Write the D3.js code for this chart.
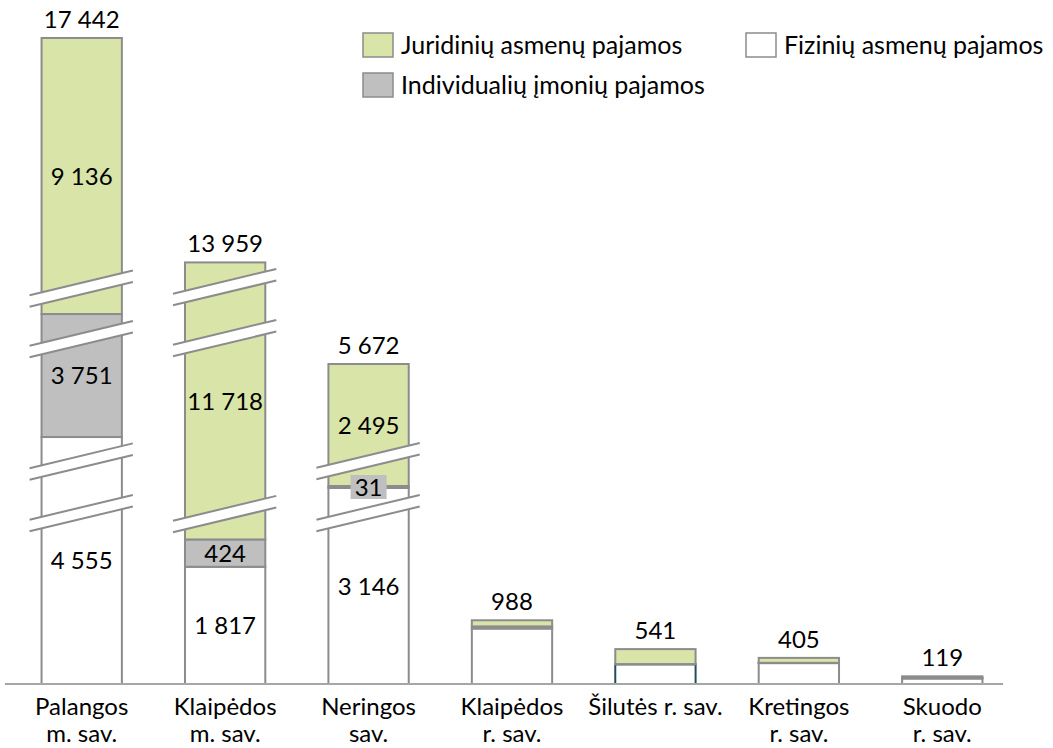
<!DOCTYPE html>
<html lang="lt">
<head>
<meta charset="utf-8">
<title></title>
<script src="https://d3js.org/d3.v7.min.js"></script>
<style>
body { margin: 0; background: #fff; }
text { font-family: Lato, "Open Sans", sans-serif; font-size: 24px; fill: #000; }
.legend text { font-size: 25px; }
</style>
</head>
<body>
<svg width="1053" height="748"></svg>
<script>

var categories = ["Palangos m. sav.", "Klaipėdos m. sav.", "Neringos sav.", "Klaipėdos r. sav.",
                  "Šilutės r. sav.", "Kretingos r. sav.", "Skuodo r. sav."];
var categoryLines = [["Palangos", "m. sav."], ["Klaipėdos", "m. sav."], ["Neringos", "sav."],
                     ["Klaipėdos", "r. sav."], ["Šilutės r. sav."], ["Kretingos", "r. sav."], ["Skuodo", "r. sav."]];

var fiziniu = [4555, 1817, 3146, 860, 305, 324, 85];
var individualiu = [3751, 424, 31, 33, 4, 4, 12];
var juridiniu = [9136, 11718, 2495, 95, 232, 77, 22];
var totals = [17442, 13959, 5672, 988, 541, 405, 119];

// axis cuts for the tall bars: [value where the cut starts, amount left out]
var breaks = [
  [[2651, 363], [3813, 363], [6075, 1844], [8702, 4856]],
  [[2636, 2474], [7838, 2474], [11103, 2475]],
  [[2651, 107], [3564, 604]],
  [], [], [], []
];

var labelledBars = 3;

var seriesNames = ["Fizinių asmenų pajamos", "Individualių įmonių pajamos", "Juridinių asmenų pajamos"];
var seriesColors = ["#ffffff", "#bfbfbf", "#d8e4a8"];

var svg = d3.select("svg");
var baseY = 684;

var x = d3.scaleBand()
    .domain(categories)
    .range([10, 1014])
    .paddingInner(0.44)
    .paddingOuter(0.22);

var y = d3.scaleLinear()
    .domain([0, 10000])
    .range([baseY, baseY - 645]);

var fmt = d3.formatLocale({decimal: ",", thousands: "\u00a0", grouping: [3], currency: ["", ""]}).format(",d");

// broken value scale for one bar
function brokenScale(cuts, max) {
  var dom = [0], rng = [0], removed = 0;
  cuts.forEach(function(c) {
    dom.push(c[0], c[0] + c[1]);
    rng.push(c[0] - removed, c[0] - removed);
    removed += c[1];
  });
  dom.push(max);
  rng.push(max - removed);
  var s = d3.scaleLinear().domain(dom).range(rng);
  return function(v) { return y(s(v)); };
}

var bars = categories.map(function(c, i) {
  var vals = [fiziniu[i], individualiu[i], juridiniu[i]];
  var sy = brokenScale(breaks[i], totals[i] + 1);
  var acc = 0;
  var segs = vals.map(function(v, k) {
    var s = {k: k, v: v, y0: sy(acc), y1: sy(acc + v)};
    acc += v;
    return s;
  });
  return {cat: c, i: i, segs: segs, sy: sy, top: sy(totals[i])};
});

var g = svg.append("g");

bars.forEach(function(b) {
  var bx = x(b.cat), bw = x.bandwidth();
  var bg = g.append("g");

  bg.selectAll("rect")
    .data(b.segs)
    .join("rect")
      .attr("x", bx)
      .attr("y", d => d.y1)
      .attr("width", bw)
      .attr("height", d => Math.max(0, d.y0 - d.y1))
      .attr("fill", d => seriesColors[d.k])
      .attr("stroke", d => (b.i == 4 && d.k == 0) ? "#1f4e5a" : "#8c8c8c")
      .attr("stroke-width", 2);

  // break marks
  var cx = bx + bw / 2, slope = -0.24, half = 5.8;
  var xl = bx - 12, xr = bx + bw + 11;
  breaks[b.i].forEach(function(c) {
    var yc = b.sy(c[0]);
    var yl = yc + slope * (xl - cx), yr = yc + slope * (xr - cx);
    bg.append("path")
      .attr("d", `M${xl},${yl - half}L${xr},${yr - half}L${xr},${yr + half}L${xl},${yl + half}Z`)
      .attr("fill", "#fff");
    [-half, half].forEach(function(o) {
      bg.append("line")
        .attr("x1", xl).attr("y1", yl + o)
        .attr("x2", xr).attr("y2", yr + o)
        .attr("stroke", "#8c8c8c")
        .attr("stroke-width", 2);
    });
  });

  // segment labels
  if (b.i < labelledBars) {
    b.segs.forEach(function(s) {
      var cy = (s.y0 + s.y1) / 2;
      if (s.k == 1) {
        bg.append("rect")
          .attr("x", cx - 18).attr("y", cy - 12)
          .attr("width", 36).attr("height", 24)
          .attr("fill", "#bfbfbf");
      }
      bg.append("text")
        .attr("x", cx).attr("y", cy)
        .attr("dy", "0.36em")
        .attr("text-anchor", "middle")
        .text(fmt(s.v));
    });
  }

  bg.append("text")
    .attr("x", cx).attr("y", b.top - 19)
    .attr("dy", "0.36em")
    .attr("text-anchor", "middle")
    .text(fmt(totals[b.i]));

  // category label
  categoryLines[b.i].forEach(function(t, j) {
    bg.append("text")
      .attr("x", cx).attr("y", 706 + j * 27)
      .attr("dy", "0.36em")
      .attr("text-anchor", "middle")
      .text(t);
  });
});

// axis line
svg.append("line")
  .attr("x1", 5).attr("x2", 1003)
  .attr("y1", baseY).attr("y2", baseY)
  .attr("stroke", "#a6a6a6")
  .attr("stroke-width", 2);

// legend
var legendItems = [
  {name: seriesNames[2], color: seriesColors[2], x: 363, y: 45},
  {name: seriesNames[0], color: seriesColors[0], x: 746, y: 45},
  {name: seriesNames[1], color: seriesColors[1], x: 363, y: 85}
];
var lg = svg.append("g").attr("class", "legend").selectAll("g")
  .data(legendItems)
  .join("g")
    .attr("transform", d => `translate(${d.x},${d.y})`);
lg.append("rect")
  .attr("x", 0).attr("y", -12)
  .attr("width", 30).attr("height", 24)
  .attr("fill", d => d.color)
  .attr("stroke", "#8c8c8c")
  .attr("stroke-width", 1.5);
lg.append("text")
  .attr("x", 38).attr("y", 0)
  .attr("dy", "0.36em")
  .text(d => d.name);

</script>
</body>
</html>
